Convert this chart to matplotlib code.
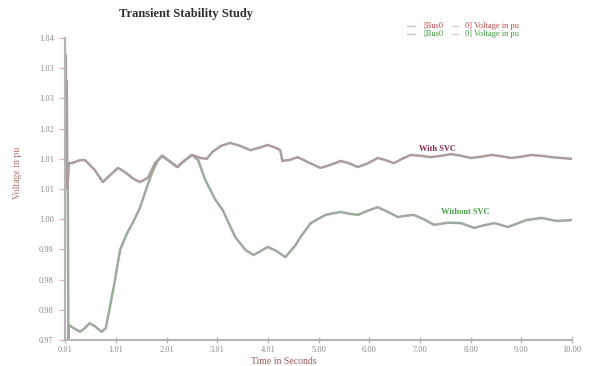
import matplotlib
matplotlib.use("Agg")
import matplotlib.pyplot as plt
from matplotlib.lines import Line2D

# Bus voltage with SVC (time in s, voltage in pu)
t_svc = [0.00, 0.01, 0.02, 0.03, 0.04, 0.05, 0.08, 0.14, 0.30, 0.40, 0.50, 0.59,
         0.75, 0.89, 1.05, 1.19, 1.35, 1.48, 1.64, 1.78, 1.92, 2.08, 2.22, 2.37,
         2.51, 2.67, 2.80, 2.91, 3.08, 3.26, 3.46, 3.66, 3.84, 4.00, 4.15, 4.25,
         4.29, 4.45, 4.59, 4.80, 5.04, 5.24, 5.44, 5.60, 5.78, 5.98, 6.17, 6.33,
         6.49, 6.65, 6.82, 7.02, 7.22, 7.42, 7.62, 7.82, 8.01, 8.21, 8.41, 8.61,
         8.80, 9.00, 9.20, 9.40, 9.59, 9.79, 9.99]
v_svc = [1.0400, 1.0303, 1.0360, 1.0200, 1.0300, 1.0050, 1.0110, 1.0110, 1.0117, 1.0117,
         1.0105, 1.0094, 1.0066, 1.0082, 1.0099, 1.0089, 1.0074, 1.0066, 1.0076, 1.0110,
         1.0127, 1.0113, 1.0101, 1.0117, 1.0129, 1.0122, 1.0120, 1.0136, 1.0150, 1.0157,
         1.0150, 1.0140, 1.0146, 1.0152, 1.0146, 1.0140, 1.0115, 1.0118, 1.0124, 1.0112,
         1.0099, 1.0106, 1.0115, 1.0110, 1.0101, 1.0110, 1.0122, 1.0117, 1.0110, 1.0120,
         1.0129, 1.0127, 1.0124, 1.0127, 1.0131, 1.0127, 1.0122, 1.0125, 1.0129, 1.0126,
         1.0122, 1.0125, 1.0129, 1.0127, 1.0124, 1.0122, 1.0120]

# Bus voltage without SVC
t_nosvc = [0.00, 0.06, 0.07, 0.08, 0.14, 0.30, 0.40, 0.49, 0.59, 0.73, 0.81, 0.89,
           0.99, 1.09, 1.23, 1.35, 1.48, 1.62, 1.74, 1.84, 1.92, 2.08, 2.22, 2.37,
           2.51, 2.63, 2.77, 2.97, 3.11, 3.36, 3.56, 3.72, 3.86, 4.00, 4.18, 4.35,
           4.55, 4.65, 4.85, 5.14, 5.44, 5.60, 5.78, 5.98, 6.17, 6.37, 6.57, 6.72,
           6.88, 7.08, 7.28, 7.56, 7.81, 8.07, 8.27, 8.47, 8.74, 9.10, 9.40, 9.70, 9.99]
v_nosvc = [1.0060, 1.0060, 0.9700, 0.9735, 0.9730, 0.9719, 0.9728, 0.9739, 0.9732, 0.9719,
           0.9728, 0.9777, 0.9839, 0.9909, 0.9948, 0.9974, 1.0006, 1.0055, 1.0094, 1.0117,
           1.0127, 1.0113, 1.0101, 1.0117, 1.0129, 1.0117, 1.0071, 1.0025, 1.0002, 0.9939,
           0.9909, 0.9897, 0.9906, 0.9916, 0.9906, 0.9892, 0.9920, 0.9939, 0.9971, 0.9990,
           0.9997, 0.9993, 0.9990, 1.0000, 1.0008, 0.9997, 0.9985, 0.9988, 0.9990, 0.9980,
           0.9967, 0.9972, 0.9971, 0.9960, 0.9966, 0.9971, 0.9962, 0.9978, 0.9983, 0.9976,
           0.9978]

x_ticks = [0.01, 1.009, 2.008, 3.007, 4.006, 5.005, 6.004, 7.003, 8.002, 9.001, 10.0]
x_labels = ["0.01", "1.01", "2.01", "3.01", "4.01", "5.00", "6.00", "7.00", "8.00", "9.00", "10.00"]
y_ticks = [0.970, 0.977, 0.984, 0.991, 0.998, 1.005, 1.012, 1.019, 1.026, 1.033, 1.040]
y_labels = ["0.97", "0.98", "0.98", "0.99", "1.00", "1.01", "1.01", "1.02", "1.03", "1.03", "1.04"]

serif = ["Liberation Serif", "DejaVu Serif"]
red_line = "#ab9d9d"
green_line = "#9daa9d"
axis_grey = "#b4b4b4"

fig = plt.figure(figsize=(5.89, 3.66), dpi=100)
ax = fig.add_axes([0.110, 0.071, 0.861, 0.825])

ax.plot(t_nosvc, v_nosvc, color=green_line, lw=1.8, solid_joinstyle="round")
ax.plot(t_svc, v_svc, color=red_line, lw=1.8, solid_joinstyle="round")

ax.set_xlim(0.0, 10.0)
ax.set_ylim(0.97, 1.04)
ax.set_xticks(x_ticks)
ax.set_xticklabels(x_labels)
ax.set_yticks(y_ticks)
ax.set_yticklabels(y_labels)

for side in ("top", "right"):
    ax.spines[side].set_visible(False)
for side in ("left", "bottom"):
    ax.spines[side].set_color(axis_grey)
    ax.spines[side].set_linewidth(1.5)

ax.tick_params(axis="x", direction="inout", length=5, width=1.0, color=axis_grey,
               labelsize=6, labelcolor="#8a8a8a", pad=2)
ax.tick_params(axis="y", direction="out", length=4, width=1.0, color="#d8b8b8",
               labelsize=6, labelcolor="#8a8a8a", pad=4)
for lab in ax.get_xticklabels() + ax.get_yticklabels():
    lab.set_family(serif)

ax.set_xlabel("Time in Seconds", fontsize=7, color="#a05858", family=serif)
ax.xaxis.set_label_coords(0.432, -0.055)
ax.set_ylabel("Voltage in pu", fontsize=7, color="#b07070", family=serif)
ax.yaxis.set_label_coords(-0.085, 0.553)

ax.text(6.98, 1.0139, "With SVC", fontsize=6, color="#8a2a48", family=serif,
        fontweight="bold")
ax.text(7.42, 0.9993, "Without SVC", fontsize=6, color="#4aa04a", family=serif,
        fontweight="bold")

fig.text(0.315, 0.962, "Transient Stability Study", ha="center", va="center",
         fontsize=9, fontweight="bold", color="#303030", family=serif)

# Legend entries drawn as figure text with short line keys
for y, col in ((0.929, "#c04848"), (0.908, "#3a9a3a")):
    fig.add_artist(Line2D([0.691, 0.705], [y, y], color="#c8c8c8", lw=1.0,
                          transform=fig.transFigure))
    fig.text(0.718, y, "[Bus0", fontsize=6, color=col, family=serif, va="center")
    fig.add_artist(Line2D([0.768, 0.778], [y, y], color="#e8c8c8", lw=1.0,
                          transform=fig.transFigure))
    fig.text(0.789, y, "0] Voltage in pu", fontsize=6, color=col, family=serif,
             va="center")

fig.savefig("out.png", dpi=100)
